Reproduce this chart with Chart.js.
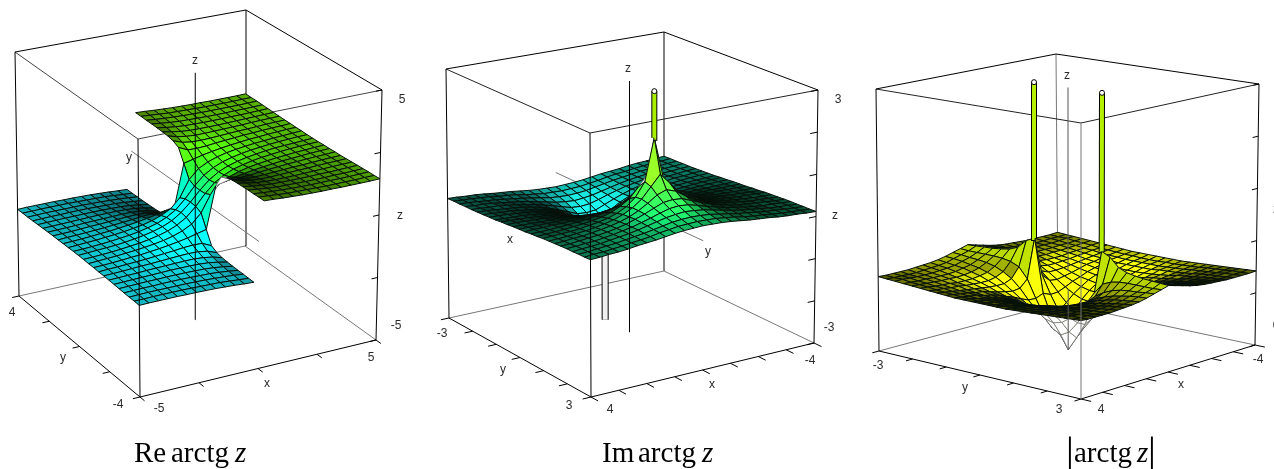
<!DOCTYPE html>
<html>
<head>
<meta charset="utf-8">
<title>arctg z</title>
<script src="https://cdn.jsdelivr.net/npm/chart.js@4"></script>
<style>
    html, body { margin: 0; padding: 0; background: #fff; overflow: hidden; }
    canvas { display: block; }
</style>
</head>
<body>
<canvas id="plot" width="1274" height="469"></canvas>
<script>
// values, in hundredths of a z unit; rows run from the back corner to the front one
const reXs = [5, 4.6, 4.2, 3.8, 3.4, 3, 2.6, 2.2, 1.8, 1.4, 1, 0.6, 0.2, -0.2, -0.6, -1, -1.4, -1.8, -2.2, -2.6, -3, -3.4, -3.8, -4.2, -4.6, -5];
const reYs = [4, 3.667, 3.333, 3, 2.667, 2.333, 2, 1.667, 1.333, 1, 0.667, 0.333, 0, -0.333, -0.667, -1, -1.333, -1.667, -2, -2.333, -2.667, -3, -3.333, -3.667, -4];
const reRow40 = [145,144,144,144,144,145,145,146,147,149,151,154,156,-156,-154,-151,-149,-147,-146,-145,-145,-144,-144,-144,-144,-145];
const reRow37 = [144,144,143,143,143,143,144,145,146,147,150,153,156,-156,-153,-150,-147,-146,-145,-144,-143,-143,-143,-143,-144,-144];
const reRow33 = [144,143,142,142,142,142,142,143,144,146,148,151,155,-155,-151,-148,-146,-144,-143,-142,-142,-142,-142,-142,-143,-144];
const reRow30 = [143,142,141,141,140,140,140,141,142,143,146,150,155,-155,-150,-146,-143,-142,-141,-140,-140,-140,-141,-141,-142,-143];
const reRow27 = [142,141,140,139,139,138,138,138,139,140,143,148,154,-154,-148,-143,-140,-139,-138,-138,-138,-139,-139,-140,-141,-142];
const reRow23 = [141,140,139,138,137,136,135,135,135,136,139,145,153,-153,-145,-139,-136,-135,-135,-135,-136,-137,-138,-139,-140,-141];
const reRow20 = [140,139,138,137,135,134,133,132,131,131,134,140,151,-151,-140,-134,-131,-131,-132,-133,-134,-135,-137,-138,-139,-140];
const reRow17 = [139,138,137,135,133,132,130,128,126,125,126,132,146,-146,-132,-126,-125,-126,-128,-130,-132,-133,-135,-137,-138,-139];
const reRow13 = [139,137,136,134,132,130,127,124,121,117,115,116,134,-134,-116,-115,-117,-121,-124,-127,-130,-132,-134,-136,-137,-139];
const reRow10 = [138,137,135,133,130,128,124,120,115,109,102,93,84,-84,-93,-102,-109,-115,-120,-124,-128,-130,-133,-135,-137,-138];
const reRow07 = [138,136,134,132,129,126,122,117,111,102,89,70,33,-33,-70,-89,-102,-111,-117,-122,-126,-129,-132,-134,-136,-138];
const reRow03 = [137,136,134,132,129,125,121,115,107,97,81,58,22,-22,-58,-81,-97,-107,-115,-121,-125,-129,-132,-134,-136,-137];
const reRow00 = [137,135,133,131,129,125,120,114,106,95,79,54,20,-20,-54,-79,-95,-106,-114,-120,-125,-129,-131,-133,-135,-137];
const reZ = [reRow40, reRow37, reRow33, reRow30, reRow27, reRow23, reRow20, reRow17, reRow13, reRow10, reRow07, reRow03, reRow00,
    reRow03, reRow07, reRow10, reRow13, reRow17, reRow20, reRow23, reRow27, reRow30, reRow33, reRow37, reRow40];

const imXs = [-4, -3.667, -3.333, -3, -2.667, -2.333, -2, -1.667, -1.333, -1, -0.667, -0.333, 0, 0.333, 0.667, 1, 1.333, 1.667, 2, 2.333, 2.667, 3, 3.333, 3.667, 4];
const imYs = [-3, -2.75, -2.5, -2.25, -2, -1.75, -1.5, -1.25, -1, -0.75, -0.5, -0.25, 0, 0.25, 0.5, 0.75, 1, 1.25, 1.5, 1.75, 2, 2.25, 2.5, 2.75, 3];
const imZ = [
    [-12,-13,-15,-16,-18,-21,-23,-25,-28,-31,-33,-34,-35,-34,-33,-31,-28,-25,-23,-21,-18,-16,-15,-13,-12],
    [-11,-13,-14,-16,-18,-21,-23,-26,-30,-33,-36,-37,-38,-37,-36,-33,-30,-26,-23,-21,-18,-16,-14,-13,-11],
    [-11,-12,-14,-16,-18,-21,-24,-27,-31,-35,-39,-41,-42,-41,-39,-35,-31,-27,-24,-21,-18,-16,-14,-12,-11],
    [-10,-12,-13,-15,-18,-21,-24,-28,-33,-38,-43,-46,-48,-46,-43,-38,-33,-28,-24,-21,-18,-15,-13,-12,-10],
    [-10,-11,-13,-14,-17,-20,-24,-28,-34,-40,-47,-53,-55,-53,-47,-40,-34,-28,-24,-20,-17,-14,-13,-11,-10],
    [-9,-10,-12,-14,-16,-19,-23,-28,-35,-43,-52,-61,-63,-61,-52,-43,-35,-28,-23,-19,-16,-14,-12,-10,-9],
    [-8,-9,-11,-12,-15,-18,-22,-27,-34,-44,-57,-72,-80,-72,-57,-44,-34,-27,-22,-18,-15,-12,-11,-9,-8],
    [-7,-8,-9,-11,-13,-16,-20,-25,-33,-44,-60,-85,-110,-85,-60,-44,-33,-25,-20,-16,-13,-11,-9,-8,-7],
    [-6,-7,-8,-9,-11,-14,-17,-22,-29,-40,-58,-90,-130,-90,-58,-40,-29,-22,-17,-14,-11,-9,-8,-7,-6],
    [-4,-5,-6,-7,-9,-11,-14,-18,-24,-34,-48,-72,-97,-72,-48,-34,-24,-18,-14,-11,-9,-7,-6,-5,-4],
    [-3,-3,-4,-5,-6,-8,-10,-13,-17,-24,-34,-47,-55,-47,-34,-24,-17,-13,-10,-8,-6,-5,-4,-3,-3],
    [-1,-2,-2,-3,-3,-4,-5,-7,-9,-12,-17,-23,-26,-23,-17,-12,-9,-7,-5,-4,-3,-3,-2,-2,-1],
    [0,0,0,0,0,0,0,0,0,0,0,0,0,0,0,0,0,0,0,0,0,0,0,0,0],
    [1,2,2,3,3,4,5,7,9,12,17,23,26,23,17,12,9,7,5,4,3,3,2,2,1],
    [3,3,4,5,6,8,10,13,17,24,34,47,55,47,34,24,17,13,10,8,6,5,4,3,3],
    [4,5,6,7,9,11,14,18,24,34,48,72,97,72,48,34,24,18,14,11,9,7,6,5,4],
    [6,7,8,9,11,14,17,22,29,40,58,90,190,90,58,40,29,22,17,14,11,9,8,7,6],
    [7,8,9,11,13,16,20,25,33,44,60,85,110,85,60,44,33,25,20,16,13,11,9,8,7],
    [8,9,11,12,15,18,22,27,34,44,57,72,80,72,57,44,34,27,22,18,15,12,11,9,8],
    [9,10,12,14,16,19,23,28,35,43,52,61,63,61,52,43,35,28,23,19,16,14,12,10,9],
    [10,11,13,14,17,20,24,28,34,40,47,53,55,53,47,40,34,28,24,20,17,14,13,11,10],
    [10,12,13,15,18,21,24,28,33,38,43,46,48,46,43,38,33,28,24,21,18,15,13,12,10],
    [11,12,14,16,18,21,24,27,31,35,39,41,42,41,39,35,31,27,24,21,18,16,14,12,11],
    [11,13,14,16,18,21,23,26,30,33,36,37,38,37,36,33,30,26,23,21,18,16,14,13,11],
    [12,13,15,16,18,21,23,25,28,31,33,34,35,34,33,31,28,25,23,21,18,16,15,13,12]
];

const absRow00 = [133,130,128,125,121,117,111,103,93,79,59,32,0,32,59,79,93,103,111,117,121,125,128,130,133];
const absRow02 = [133,130,128,125,121,117,111,104,94,81,63,41,26,41,63,81,94,104,111,117,121,125,128,130,133];
const absRow05 = [133,131,128,125,122,118,113,107,98,88,75,62,55,62,75,88,98,107,113,118,122,125,128,131,133];
const absRow07 = [133,131,129,127,123,120,116,110,105,98,92,91,97,91,92,98,105,110,116,120,123,127,129,131,133];
const absRow10 = [134,132,130,128,125,123,119,115,112,109,111,125,200,125,111,109,112,115,119,123,125,128,130,132,134];
const absRow12 = [135,133,131,129,127,125,123,121,120,120,126,145,192,145,126,120,120,121,123,125,127,129,131,133,135];
const absRow15 = [136,134,133,131,130,128,127,126,126,129,136,152,176,152,136,129,126,126,127,128,130,131,133,134,136];
const absRow17 = [137,136,134,133,132,130,130,130,132,135,143,155,169,155,143,135,132,130,130,130,132,133,134,136,137];
const absRow20 = [138,137,136,135,134,134,133,134,136,140,147,156,166,156,147,140,136,134,133,134,134,135,136,137,138];
const absRow22 = [139,138,137,137,136,136,136,137,140,143,149,156,164,156,149,143,140,137,136,136,136,137,137,138,139];
const absRow25 = [140,140,139,138,138,138,139,140,142,146,150,156,163,156,150,146,142,140,139,138,138,138,139,140,140];
const absRow27 = [141,140,140,139,139,140,141,142,144,148,152,156,162,156,152,148,144,142,141,140,139,139,140,140,141];
const absRow30 = [142,141,141,141,141,142,143,144,146,149,153,157,161,157,153,149,146,144,143,142,141,141,141,141,142];
const absZ = [absRow30, absRow27, absRow25, absRow22, absRow20, absRow17, absRow15, absRow12, absRow10, absRow07, absRow05, absRow02, absRow00,
    absRow02, absRow05, absRow07, absRow10, absRow12, absRow15, absRow17, absRow20, absRow22, absRow25, absRow27, absRow30];

const reXTicks = [-5, -2.5, 0, 2.5, 5];
const reYTicks = [-4, -2, 0, 2, 4];
const reZTicks = [-5, -2.5, 0, 2.5, 5];
const imXTicks = [-4, -3, -2, -1, 0, 1, 2, 3, 4];
const imYTicks = [-3, -2, -1, 0, 1, 2, 3];
const imZTicks = [-3, -2, -1, 0, 1, 2, 3];
const absZTicks = [0, 1, 2, 3, 4, 5];

const reLabels = ['z', 'y', 'z', '5', '-5', '4', '-4', 'y', '-5', 'x', '5'];
const imLabels = ['z', 'x', 'y', 'z', '3', '-3', '-3', 'y', '3', '4', 'x', '-4'];
const absLabels = ['z', '-3', 'y', '3', '4', 'x', '-4', 'z', '0'];

// the three boxes on the page: [bottom, top] > [front row, back row] > [near x, far x]
const panels = [
    {
        xEnds: [-5, 5], yEnds: [-4, 4], zEnds: [-5, 5],
        box: [[[[140, 397], [376, 340]], [[19, 296], [245, 246]]], [[[138, 139], [382, 90]], [[15, 52], [246, 10]]]],
        xs: reXs, ys: reYs, zs: reZ, xTicks: reXTicks, yTicks: reYTicks, zTicks: reZTicks,
        maxJump: 200, showYAxis: true, guide: '#000', inner: '#444', maxShade: 1.6,
        ramp: [[-1.57, 22, 165, 180], [-0.8, 0, 215, 210], [0, 0, 215, 125], [0.8, 35, 200, 20], [1.57, 92, 160, 0]],
        tubes: [],
        labels: reLabels,
        spots: [[195, 61], [129, 158], [400, 216], [402, 100], [396, 326], [12, 313], [118, 405], [63, 358], [159, 409], [267, 384], [371, 358]]
    },
    {
        xEnds: [4, -4], yEnds: [3, -3], zEnds: [-3, 3],
        box: [[[[591, 397], [814, 343]], [[449, 318], [664, 271]]], [[[590, 133], [818, 90]], [[446, 69], [664, 32]]]],
        xs: imXs, ys: imYs, zs: imZ, xTicks: imXTicks, yTicks: imYTicks, zTicks: imZTicks,
        maxJump: 999, showYAxis: true, guide: '#000', inner: '#222', maxShade: 1.7,
        ramp: [[-1.9, 50, 190, 200], [-0.4, 15, 140, 135], [0, 8, 105, 80], [0.4, 15, 140, 70], [1, 70, 215, 30], [1.9, 170, 255, 0]],
        tubes: [{ y: -1, from: -1, to: -3, fill: '#f0f0f0', width: 5, under: true }, { y: 1, from: 1.9, to: 3, fill: '#a8f000', width: 4 }],
        labels: imLabels,
        spots: [[628, 69], [510, 240], [708, 252], [835, 216], [838, 100], [829, 328], [442, 334], [503, 370], [569, 406], [610, 410], [712, 385], [810, 361]]
    },
    {
        xEnds: [4, -4], yEnds: [3, -3], zEnds: [0, 5],
        box: [[[[1081, 399], [1255, 345]], [[879, 351], [1058, 303]]], [[[1081, 123], [1259, 84]], [[876, 89], [1056, 54]]]],
        xs: imXs, ys: imYs, zs: absZ, xTicks: imXTicks, yTicks: imYTicks, zTicks: absZTicks,
        maxJump: 999, showYAxis: false, guide: '#777', inner: '#222', maxShade: 1.45,
        ramp: [[0, 190, 195, 10], [1.25, 190, 195, 10], [1.4, 105, 110, 0], [2, 170, 220, 0]],
        tubes: [{ y: -1, from: 2, to: 5, fill: '#b4f000', width: 4 }, { y: 1, from: 2, to: 5, fill: '#b4f000', width: 4 }],
        labels: absLabels,
        spots: [[1067, 76], [878, 366], [965, 388], [1059, 410], [1101, 410], [1181, 385], [1258, 360], [1276, 210], [1276, 326]]
    }
];

const titles = [
    { text: 'Re', x: 134, italic: false }, { text: 'arctg', x: 171, italic: false }, { text: 'z', x: 235, italic: true },
    { text: 'Im', x: 602, italic: false }, { text: 'arctg', x: 638, italic: false }, { text: 'z', x: 702, italic: true },
    { text: 'arctg', x: 1074, italic: false }, { text: 'z', x: 1137, italic: true }
];

// trilinear lookup inside the box corners
const project = (panel, x, y, z) => {
    const u = (x - panel.xEnds[0]) / (panel.xEnds[1] - panel.xEnds[0]);
    const v = (y - panel.yEnds[0]) / (panel.yEnds[1] - panel.yEnds[0]);
    const w = (z - panel.zEnds[0]) / (panel.zEnds[1] - panel.zEnds[0]);
    const mix = (a, b, t) => a + (b - a) * t;
    const onLevel = (level, k) => mix(
        mix(panel.box[level][0][0][k], panel.box[level][0][1][k], u),
        mix(panel.box[level][1][0][k], panel.box[level][1][1][k], u), v);
    return { x: mix(onLevel(0, 0), onLevel(1, 0), w), y: mix(onLevel(0, 1), onLevel(1, 1), w) };
};

const signedArea = (pts) => {
    let sum = 0;
    pts.forEach((p, i) => {
        const q = pts[(i + 1) % pts.length];
        sum += p.x * q.y - q.x * p.y;
    });
    return sum / 2;
};

const rampColor = (ramp, z, shade) => {
    let rgb = ramp[ramp.length - 1].slice(1);
    if (z <= ramp[0][0]) rgb = ramp[0].slice(1);
    for (let i = 1; i < ramp.length; i++) {
        if (z > ramp[i - 1][0] && z <= ramp[i][0]) {
            const t = (z - ramp[i - 1][0]) / (ramp[i][0] - ramp[i - 1][0]);
            rgb = [1, 2, 3].map(k => ramp[i - 1][k] + (ramp[i][k] - ramp[i - 1][k]) * t);
        }
    }
    const out = rgb.map(c => Math.min(255, Math.round(c * shade)));
    return `rgb(${out[0]},${out[1]},${out[2]})`;
};

const drawList = [];

const addLine = (points, color, width) => {
    drawList.push({ data: points, borderColor: color, borderWidth: width, pointRadius: 0, fill: false });
};

const addSurface = (panel) => {
    for (let i = 0; i < panel.ys.length - 1; i++) {
        for (let j = 0; j < panel.xs.length - 1; j++) {
            const cell = [[j, i], [j + 1, i], [j + 1, i + 1], [j, i + 1]];
            const heights = cell.map(([c, r]) => panel.zs[r][c]);
            if (Math.max(...heights) - Math.min(...heights) > panel.maxJump) continue;
            const pts = cell.map(([c, r]) => project(panel, panel.xs[c], panel.ys[r], panel.zs[r][c] / 100));
            const flat = cell.map(([c, r]) => project(panel, panel.xs[c], panel.ys[r], 0));
            const area = signedArea(pts);
            const baseArea = signedArea(flat);
            const flipped = area * baseArea < 0;
            const mean = heights.reduce((a, b) => a + b, 0) / 400;
            // cells seen at a grazing angle go dark, cells facing the viewer go bright
            const ratio = Math.abs(area / baseArea);
            const shade = ratio < 1 ? ratio * ratio : Math.min(panel.maxShade, ratio);
            drawList.push({
                data: [...pts, pts[0]],
                borderColor: flipped ? '#6a6a6a' : '#051008',
                borderWidth: flipped ? 0.7 : 1,
                backgroundColor: flipped ? '#fff' : rampColor(panel.ramp, mean, shade),
                pointRadius: 0,
                fill: 'shape'
            });
        }
    }
};

const addTube = (panel, tube) => {
    const a = project(panel, 0, tube.y, tube.from);
    const b = project(panel, 0, tube.y, tube.to);
    addLine([a, b], '#000', tube.width + 2);
    addLine([a, b], tube.fill, tube.width);
    if (tube.under) return;
    drawList.push({
        data: [b], showLine: false, pointRadius: (tube.width + 1) / 2, pointStyle: 'circle',
        pointBackgroundColor: '#fff', pointBorderColor: '#000', pointBorderWidth: 1
    });
};

const addPanel = (panel) => {
    const [x0, x1] = panel.xEnds;
    const [y0, y1] = panel.yEnds;
    const [z0, z1] = panel.zEnds;
    const edge = (a, b, color) => addLine([project(panel, ...a), project(panel, ...b)], color, 1);

    // walls and floor behind the surface
    edge([x1, y1, z0], [x1, y1, z1], panel.guide);
    edge([x0, y1, z0], [x1, y1, z0], '#777');
    edge([x1, y1, z0], [x1, y0, z0], '#777');
    edge([x0, y1, z1], [x0, y0, z1], panel.inner);
    edge([x0, y0, z1], [x1, y0, z1], panel.inner);
    edge([x0, y1, z1], [x1, y1, z1], '#000');
    edge([x1, y1, z1], [x1, y0, z1], '#000');
    edge([x0, y1, z0], [x0, y1, z1], '#000');
    edge([x1, y0, z0], [x1, y0, z1], '#000');
    edge([x0, y0, z0], [x1, y0, z0], '#000');
    edge([x0, y0, z0], [x0, y1, z0], '#000');

    const xDir = (x1 - x0) / Math.abs(x1 - x0);
    const yDir = (y1 - y0) / Math.abs(y1 - y0);
    panel.xTicks.forEach(t => edge([t, y0, z0], [t, y0 - yDir * 0.3, z0], '#000'));
    panel.yTicks.forEach(t => edge([x0, t, z0], [x0 - xDir * 0.3, t, z0], '#000'));
    panel.zTicks.forEach(t => edge([x1, y0, t], [x1 - xDir * 0.25, y0, t], '#000'));

    if (panel.showYAxis) edge([0, y0, 0], [0, y1, 0], '#777');

    panel.tubes.filter(t => t.under).forEach(t => addTube(panel, t));
    addSurface(panel);
    panel.tubes.filter(t => !t.under).forEach(t => addTube(panel, t));

    // these stay in front of everything
    edge([0, 0, z0], [0, 0, panel === panels[2] ? 1.15 : z1], panel.guide === '#777' ? '#555' : '#000');
    if (panel === panels[2]) edge([0, 0, 1.5], [0, 0, z1], '#555');
    edge([x0, y0, z0], [x0, y0, z1], panel.guide);
};

panels.forEach(addPanel);

const textPlugin = {
    id: 'pageText',
    afterDatasetsDraw(chart) {
        const { ctx, scales } = chart;
        ctx.save();
        ctx.fillStyle = '#2a2a2a';
        ctx.font = '12px "Liberation Sans"';
        ctx.textAlign = 'center';
        ctx.textBaseline = 'middle';
        panels.forEach(panel => {
            panel.labels.forEach((label, i) => {
                ctx.fillText(label, scales.x.getPixelForValue(panel.spots[i][0]), scales.y.getPixelForValue(panel.spots[i][1]));
            });
        });
        ctx.fillStyle = '#000';
        ctx.textAlign = 'left';
        ctx.textBaseline = 'alphabetic';
        titles.forEach(t => {
            ctx.font = `${t.italic ? 'italic ' : ''}29px "Liberation Serif"`;
            ctx.fillText(t.text, scales.x.getPixelForValue(t.x), scales.y.getPixelForValue(462));
        });
        ctx.font = '39px "Liberation Serif"';
        ctx.fillText('|', scales.x.getPixelForValue(1066), scales.y.getPixelForValue(464));
        ctx.fillText('|', scales.x.getPixelForValue(1148), scales.y.getPixelForValue(464));
        ctx.restore();
    }
};

new Chart(document.getElementById('plot'), {
    type: 'line',
    // Chart.js paints the first dataset last
    data: { datasets: drawList.reverse() },
    options: {
        responsive: false,
        animation: false,
        events: [],
        layout: { padding: 0, autoPadding: false },
        elements: { line: { tension: 0 } },
        plugins: { legend: { display: false }, tooltip: { enabled: false } },
        scales: {
            x: { type: 'linear', min: 0, max: 1274, display: false },
            y: { type: 'linear', min: 0, max: 469, reverse: true, display: false }
        }
    },
    plugins: [textPlugin]
});
</script>
</body>
</html>
